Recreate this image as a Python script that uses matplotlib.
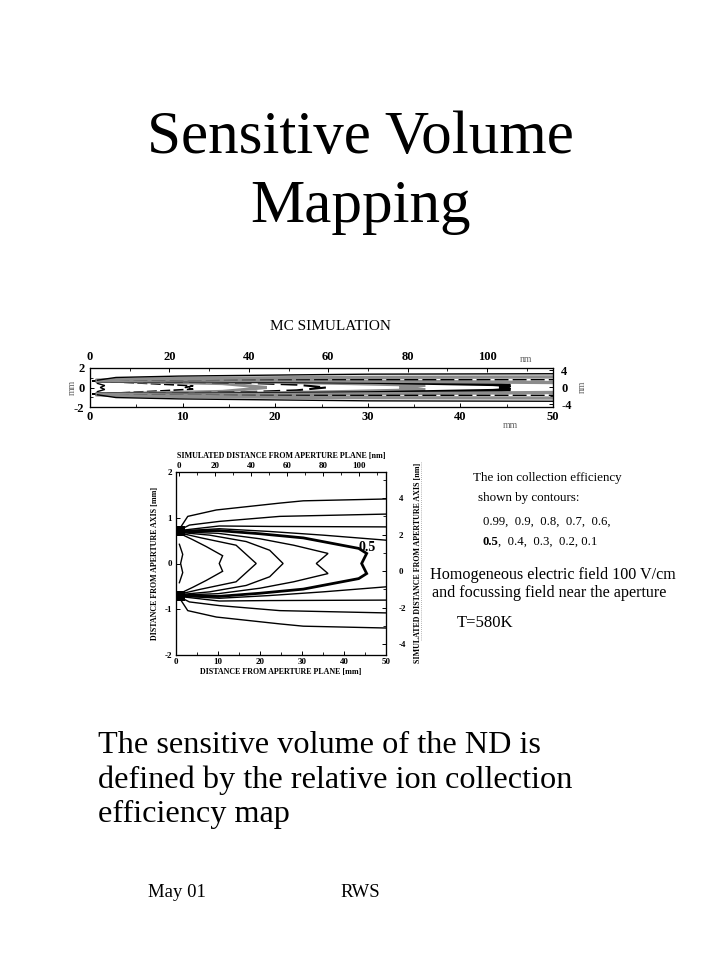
import numpy as np
import matplotlib.pyplot as plt
from matplotlib.ticker import MultipleLocator
from matplotlib.lines import Line2D

plt.rcParams['font.family'] = ['Liberation Serif', 'DejaVu Serif']
plt.rcParams['axes.unicode_minus'] = False

W, H = 720, 960

# efficiency contours, upper half in mm (lower half is the mirror image)
levels = [0.99, 0.9, 0.8, 0.7, 0.6, 0.5, 0.4, 0.3, 0.2, 0.1]
closed_x = [
    [0.8, 1.6, 1.1],
    [0.8, 4.0, 7.2, 11.1, 10.3],
    [0.8, 6.0, 14.3, 19.1],
    [0.8, 8.0, 16.7, 22.3, 25.5],
    [0.8, 10.0, 20.0, 28.0, 36.2, 33.4],
    [0.8, 10.0, 20.0, 30.3, 43.5, 45.4, 44.2],
]
closed_y = [
    [0.42, 0.20, 0.0],
    [0.66, 0.52, 0.37, 0.17, 0.0],
    [0.67, 0.56, 0.40, 0.0],
    [0.68, 0.62, 0.48, 0.29, 0.0],
    [0.69, 0.66, 0.54, 0.40, 0.22, 0.0],
    [0.70, 0.72, 0.65, 0.56, 0.33, 0.22, 0.0],
]
open_x = [
    [0.8, 10.3, 22.3, 35.0, 50.0],
    [0.8, 10.3, 22.3, 50.0],
    [0.8, 3.2, 10.3, 24.7, 50.0],
    [0.8, 2.8, 9.6, 24.7, 30.3, 50.0],
]
open_y = [
    [0.71, 0.76, 0.70, 0.62, 0.51],
    [0.72, 0.82, 0.81, 0.80],
    [0.73, 0.84, 0.92, 1.03, 1.08],
    [0.75, 1.03, 1.17, 1.32, 1.37, 1.41],
]
aperture_x = [0.2, 2.1]
aperture_lo = [0.61, 0.61]
aperture_hi = [0.81, 0.81]

mm_ticks = [0, 10, 20, 30, 40, 50]
nm_ticks_x = [0, 20, 40, 60, 80, 100]
legend_levels = ["0.99,  0.9,  0.8,  0.7,  0.6,", "0.4,  0.3,  0.2, 0.1"]


def fx(px):
    return px / W


def fy(py):
    return 1 - py / H


def draw_contours(ax, colors, widths, styles):
    for i in range(len(closed_x)):
        xs = closed_x[i] + closed_x[i][::-1]
        ys = closed_y[i] + [-v for v in closed_y[i][::-1]]
        ax.plot(xs, ys, color=colors[i], lw=widths[i], ls=styles[i],
                solid_joinstyle='miter')
    for j in range(len(open_x)):
        k = len(closed_x) + j
        ax.plot(open_x[j], open_y[j], color=colors[k], lw=widths[k], ls=styles[k])
        ax.plot(open_x[j], [-v for v in open_y[j]], color=colors[k], lw=widths[k], ls=styles[k])
    ax.fill_between(aperture_x, aperture_lo, aperture_hi, color='black', lw=0)
    ax.fill_between(aperture_x, [-v for v in aperture_hi], [-v for v in aperture_lo],
                    color='black', lw=0)


def style_ticks(ax, size, pad_x, pad_y):
    ax.tick_params(which='both', direction='in', labelsize=size)
    ax.tick_params(axis='x', pad=pad_x)
    ax.tick_params(axis='y', pad=pad_y)
    ax.tick_params(which='major', length=3, width=0.7)
    ax.tick_params(which='minor', length=2, width=0.6)
    for lab in ax.get_xticklabels() + ax.get_yticklabels():
        lab.set_fontweight('bold')


def twin_axes(ax, top_lim, right_lim, top_ticks, right_ticks, top_minor, right_minor):
    axt = ax.twiny()
    axt.set_xlim(*top_lim)
    axt.set_xticks(top_ticks)
    axt.xaxis.set_minor_locator(MultipleLocator(top_minor))
    axr = ax.twinx()
    axr.set_ylim(*right_lim)
    axr.set_yticks(right_ticks)
    axr.yaxis.set_minor_locator(MultipleLocator(right_minor))
    return axt, axr


fig = plt.figure(figsize=(7.2, 9.6), dpi=100)

fig.text(0.5, fy(153), "Sensitive Volume", ha='center', va='baseline', fontsize=44)
fig.text(0.5, fy(222), "Mapping", ha='center', va='baseline', fontsize=44)

# MC simulation strip
fig.text(fx(330), fy(326), "MC SIMULATION", ha='center', va='center', fontsize=11)
ax1 = fig.add_axes([fx(90), fy(407), (553 - 90) / W, (407 - 368) / H])
strip_colors = ['black', 'black', '#8c8c8c', 'black', '#8c8c8c', 'black',
                '#8c8c8c', 'black', '#8c8c8c', 'black']
strip_widths = [1.0, 1.2, 2.2, 1.5, 2.2, 2.6, 2.4, 1.0, 2.4, 1.0]
strip_styles = ['-', (0, (6, 2)), '-', (0, (8, 3)), '-', '-', '-', (0, (10, 3)), '-', '-']
draw_contours(ax1, strip_colors, strip_widths, strip_styles)
ax1.set_xlim(0, 50)
ax1.set_ylim(-2, 2)
ax1.set_xticks(mm_ticks)
ax1.xaxis.set_minor_locator(MultipleLocator(5))
ax1.set_yticks([-2, 0, 2])
ax1.yaxis.set_minor_locator(MultipleLocator(1))
t1, r1 = twin_axes(ax1, (0, 116.6), (-4.6, 4.5), nm_ticks_x, [-4, 0, 4], 10, 2)
style_ticks(ax1, 9, 3, 4)
style_ticks(t1, 9, 3.5, 4)
style_ticks(r1, 9, 4, 6)
for a in (ax1, t1, r1):
    for s in a.spines.values():
        s.set_linewidth(0.8)
fig.text(fx(72), fy(387), "mm", rotation=90, ha='center', va='center', fontsize=7, color='#666666')
fig.text(fx(582), fy(387), "nm", rotation=90, ha='center', va='center', fontsize=7, color='#666666')
fig.text(fx(526), fy(359), "nm", ha='center', va='center', fontsize=7, color='#666666')
fig.text(fx(510), fy(426), "mm", ha='center', va='center', fontsize=7, color='#666666')

# efficiency contour map
ax2 = fig.add_axes([fx(176), fy(655), (386 - 176) / W, (655 - 472) / H])
main_colors = ['black'] * 10
main_widths = [1.0, 1.0, 1.0, 1.0, 1.0, 2.0, 1.0, 1.0, 1.0, 1.0]
main_styles = ['-'] * 10
draw_contours(ax2, main_colors, main_widths, main_styles)
ax2.text(45.5, 0.36, "0.5", ha='center', va='center', fontsize=10, fontweight='bold')
ax2.set_xlim(0, 50)
ax2.set_ylim(-2, 2)
ax2.set_xticks(mm_ticks)
ax2.xaxis.set_minor_locator(MultipleLocator(5))
ax2.set_yticks([-2, -1, 0, 1, 2])
t2, r2 = twin_axes(ax2, (-1.7, 115.1), (-4.6, 5.44), nm_ticks_x, [-4, -2, 0, 2, 4], 10, 1)
style_ticks(ax2, 6.5, 2, 3)
style_ticks(t2, 6.5, 1.5, 3)
style_ticks(r2, 6.5, 2, 9)
for a in (ax2, t2, r2):
    for s in a.spines.values():
        s.set_linewidth(0.8)
lab = dict(fontsize=5.8, fontweight='bold', ha='center', va='center')
fig.text(fx(281), fy(672), "DISTANCE FROM APERTURE PLANE [mm]", **lab)
fig.text(fx(281), fy(456), "SIMULATED DISTANCE FROM APERTURE PLANE [nm]", **lab)
fig.text(fx(155), fy(563), "DISTANCE FROM APERTURE AXIS [mm]", rotation=90, **lab)
fig.text(fx(418), fy(563), "SIMULATED DISTANCE FROM APERTURE AXIS [nm]", rotation=90, **lab)

fig.add_artist(Line2D([fx(421), fx(421)], [fy(462), fy(640)], color='#9a9a9a',
                      lw=0.6, ls=(0, (1, 1.5))))

# description on the right
fig.text(fx(473), fy(478), "The ion collection efficiency", va='center', fontsize=9.4)
fig.text(fx(478), fy(498), "shown by contours:", va='center', fontsize=9.4)
fig.text(fx(483), fy(522), legend_levels[0], va='center', fontsize=9.2)
t05 = fig.text(fx(483), fy(542), "0.5", va='center', fontsize=9.2, fontweight='bold')
ax2.annotate(",  " + legend_levels[1], xy=(1, 0.5), xycoords=t05, va='center',
             xytext=(-0.5, 0), textcoords='offset points',
             fontsize=9.2, annotation_clip=False)
fig.text(fx(430), fy(575), "Homogeneous electric field 100 V/cm", va='center', fontsize=11.6)
fig.text(fx(432), fy(593), "and focussing field near the aperture", va='center', fontsize=11.6)
fig.text(fx(457), fy(623), "T=580K", va='center', fontsize=12)

body = ["The sensitive volume of the ND is",
        "defined by the relative ion collection",
        "efficiency map"]
for line, base in zip(body, [753, 788, 822]):
    fig.text(fx(98), fy(base), line, va='baseline', fontsize=23.2)

fig.text(fx(148), fy(897), "May 01", va='baseline', fontsize=13.5)
fig.text(fx(340), fy(897), "RWS", va='baseline', fontsize=13.5)

fig.savefig("out.png", dpi=100)
